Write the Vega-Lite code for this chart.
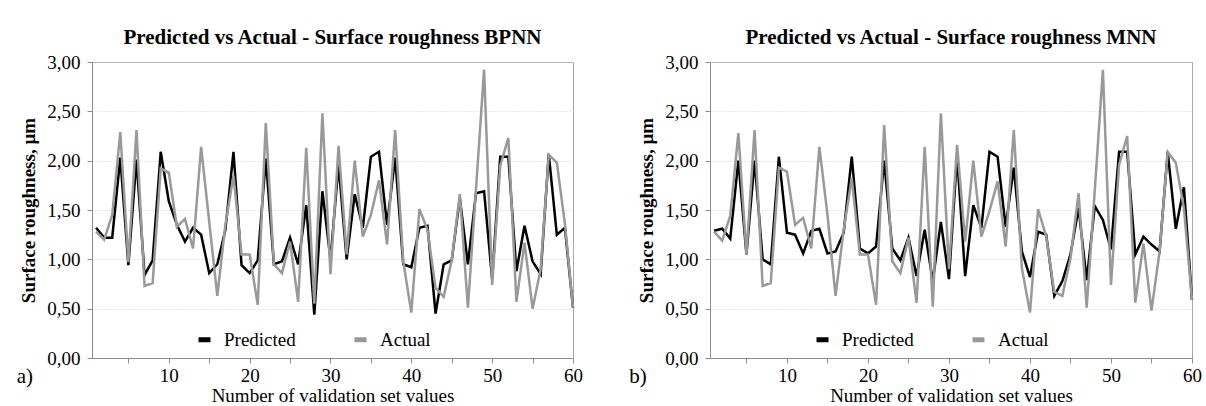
{
  "$schema": "https://vega.github.io/schema/vega-lite/v6.json",
  "background": "white",
  "padding": {"left": 16, "right": 4, "top": 26, "bottom": 0},
  "config": {
    "font": "Liberation Serif",
    "view": {"stroke": "#a6a6a6", "strokeWidth": 1},
    "title": {"fontSize": 21, "fontWeight": "bold", "offset": 5, "color": "#000000", "anchor": "middle"},
    "axis": {"labelColor": "#000000", "titleColor": "#000000", "domainColor": "#8c8c8c", "tickColor": "#8c8c8c", "labelFont": "Liberation Serif", "titleFont": "Liberation Serif"},
    "axisX": {"values": [1,2,3,4,5,6,7,8,9,10,11,12,13,14,15,16,17,18,19,20,21,22,23,24,25,26,27,28,29,30,31,32,33,34,35,36,37,38,39,40,41,42,43,44,45,46,47,48,49,50,51,52,53,54,55,56,57,58,59,60],
      "labelExpr": "datum.value % 10 == 0 ? datum.label : ''", "grid": false, "tickSize": 5, "labelFontSize": 19, "labelPadding": 3, "labelOverlap": false, "labelBound": false, "labelFlush": false,
      "titleFontSize": 19, "titleFontWeight": "normal", "titlePadding": 1},
    "axisY": {"values": [0, 0.5, 1, 1.5, 2, 2.5, 3], "labelExpr": "replace(format(datum.value, '.2f'), '.', ',')", "grid": true, "gridDash": [1, 2], "gridColor": "#cfcfcf", "tickSize": 5, "labelFontSize": 19, "labelPadding": 7, "titleFontSize": 19, "titleFontWeight": "bold", "titlePadding": 8},
    "legend": {"labelFont": "Liberation Serif", "labelColor": "#000000"}
  },
  "datasets": {
    "bpnn": [
      {"n":1,"Predicted":1.32,"Actual":1.28},{"n":2,"Predicted":1.22,"Actual":1.20},{"n":3,"Predicted":1.22,"Actual":1.45},{"n":4,"Predicted":2.03,"Actual":2.29},{"n":5,"Predicted":0.94,"Actual":0.97},
      {"n":6,"Predicted":2.01,"Actual":2.31},{"n":7,"Predicted":0.84,"Actual":0.73},{"n":8,"Predicted":0.99,"Actual":0.76},{"n":9,"Predicted":2.09,"Actual":1.92},{"n":10,"Predicted":1.59,"Actual":1.88},
      {"n":11,"Predicted":1.35,"Actual":1.33},{"n":12,"Predicted":1.18,"Actual":1.41},{"n":13,"Predicted":1.32,"Actual":1.11},{"n":14,"Predicted":1.25,"Actual":2.14},{"n":15,"Predicted":0.86,"Actual":1.38},
      {"n":16,"Predicted":0.95,"Actual":0.63},{"n":17,"Predicted":1.30,"Actual":1.35},{"n":18,"Predicted":2.09,"Actual":1.85},{"n":19,"Predicted":0.94,"Actual":1.05},{"n":20,"Predicted":0.86,"Actual":1.05},
      {"n":21,"Predicted":0.99,"Actual":0.54},{"n":22,"Predicted":2.02,"Actual":2.38},{"n":23,"Predicted":0.95,"Actual":0.95},{"n":24,"Predicted":0.98,"Actual":0.86},{"n":25,"Predicted":1.22,"Actual":1.18},
      {"n":26,"Predicted":0.95,"Actual":0.57},{"n":27,"Predicted":1.55,"Actual":2.13},{"n":28,"Predicted":0.44,"Actual":0.55},{"n":29,"Predicted":1.69,"Actual":2.48},{"n":30,"Predicted":1.00,"Actual":0.85},
      {"n":31,"Predicted":1.96,"Actual":2.15},{"n":32,"Predicted":1.00,"Actual":1.05},{"n":33,"Predicted":1.66,"Actual":2.00},{"n":34,"Predicted":1.32,"Actual":1.23},{"n":35,"Predicted":2.04,"Actual":1.45},
      {"n":36,"Predicted":2.09,"Actual":1.80},{"n":37,"Predicted":1.35,"Actual":1.15},{"n":38,"Predicted":2.03,"Actual":2.31},{"n":39,"Predicted":0.95,"Actual":0.98},{"n":40,"Predicted":0.92,"Actual":0.46},
      {"n":41,"Predicted":1.32,"Actual":1.51},{"n":42,"Predicted":1.34,"Actual":1.30},{"n":43,"Predicted":0.45,"Actual":0.71},{"n":44,"Predicted":0.95,"Actual":0.62},{"n":45,"Predicted":0.99,"Actual":0.99},
      {"n":46,"Predicted":1.62,"Actual":1.66},{"n":47,"Predicted":0.95,"Actual":0.51},{"n":48,"Predicted":1.67,"Actual":1.71},{"n":49,"Predicted":1.69,"Actual":2.92},{"n":50,"Predicted":0.80,"Actual":0.74},
      {"n":51,"Predicted":2.04,"Actual":1.95},{"n":52,"Predicted":2.04,"Actual":2.23},{"n":53,"Predicted":0.88,"Actual":0.57},{"n":54,"Predicted":1.34,"Actual":1.17},{"n":55,"Predicted":0.98,"Actual":0.50},
      {"n":56,"Predicted":0.85,"Actual":0.90},{"n":57,"Predicted":2.07,"Actual":2.06},{"n":58,"Predicted":1.25,"Actual":1.98},{"n":59,"Predicted":1.32,"Actual":1.36},{"n":60,"Predicted":0.51,"Actual":0.51}
    ],
    "mnn": [
      {"n":1,"Predicted":1.29,"Actual":1.28},{"n":2,"Predicted":1.31,"Actual":1.19},{"n":3,"Predicted":1.21,"Actual":1.44},{"n":4,"Predicted":2.00,"Actual":2.28},{"n":5,"Predicted":1.05,"Actual":1.05},
      {"n":6,"Predicted":2.00,"Actual":2.31},{"n":7,"Predicted":1.00,"Actual":0.73},{"n":8,"Predicted":0.95,"Actual":0.76},{"n":9,"Predicted":2.04,"Actual":1.93},{"n":10,"Predicted":1.27,"Actual":1.89},
      {"n":11,"Predicted":1.25,"Actual":1.35},{"n":12,"Predicted":1.06,"Actual":1.42},{"n":13,"Predicted":1.29,"Actual":1.11},{"n":14,"Predicted":1.31,"Actual":2.14},{"n":15,"Predicted":1.06,"Actual":1.45},
      {"n":16,"Predicted":1.08,"Actual":0.63},{"n":17,"Predicted":1.27,"Actual":1.30},{"n":18,"Predicted":2.04,"Actual":1.82},{"n":19,"Predicted":1.11,"Actual":1.05},{"n":20,"Predicted":1.06,"Actual":1.05},
      {"n":21,"Predicted":1.13,"Actual":0.54},{"n":22,"Predicted":2.00,"Actual":2.36},{"n":23,"Predicted":1.11,"Actual":0.98},{"n":24,"Predicted":0.99,"Actual":0.86},{"n":25,"Predicted":1.22,"Actual":1.22},
      {"n":26,"Predicted":0.83,"Actual":0.56},{"n":27,"Predicted":1.30,"Actual":2.14},{"n":28,"Predicted":0.78,"Actual":0.52},{"n":29,"Predicted":1.38,"Actual":2.48},{"n":30,"Predicted":0.80,"Actual":0.90},
      {"n":31,"Predicted":2.05,"Actual":2.16},{"n":32,"Predicted":0.83,"Actual":1.18},{"n":33,"Predicted":1.55,"Actual":2.00},{"n":34,"Predicted":1.32,"Actual":1.23},{"n":35,"Predicted":2.09,"Actual":1.49},
      {"n":36,"Predicted":2.04,"Actual":1.79},{"n":37,"Predicted":1.33,"Actual":1.13},{"n":38,"Predicted":1.93,"Actual":2.31},{"n":39,"Predicted":1.08,"Actual":0.91},{"n":40,"Predicted":0.82,"Actual":0.46},
      {"n":41,"Predicted":1.28,"Actual":1.51},{"n":42,"Predicted":1.25,"Actual":1.23},{"n":43,"Predicted":0.63,"Actual":0.67},{"n":44,"Predicted":0.78,"Actual":0.63},{"n":45,"Predicted":1.05,"Actual":1.01},
      {"n":46,"Predicted":1.52,"Actual":1.67},{"n":47,"Predicted":0.79,"Actual":0.51},{"n":48,"Predicted":1.54,"Actual":1.70},{"n":49,"Predicted":1.40,"Actual":2.92},{"n":50,"Predicted":1.10,"Actual":0.74},
      {"n":51,"Predicted":2.09,"Actual":1.96},{"n":52,"Predicted":2.09,"Actual":2.25},{"n":53,"Predicted":1.05,"Actual":0.56},{"n":54,"Predicted":1.23,"Actual":1.16},{"n":55,"Predicted":1.15,"Actual":0.48},
      {"n":56,"Predicted":1.08,"Actual":1.08},{"n":57,"Predicted":2.09,"Actual":2.09},{"n":58,"Predicted":1.31,"Actual":1.98},{"n":59,"Predicted":1.73,"Actual":1.52},{"n":60,"Predicted":0.59,"Actual":0.59}
    ]
  },
  "spacing": 137,
  "bounds": "flush",
  "resolve": {"scale": {"color": "independent"}, "legend": {"color": "independent"}},
  "hconcat": [
    {
      "width": 481,
      "height": 296,
      "title": "Predicted vs Actual - Surface roughness BPNN",
      "layer": [
        {"data": {"name": "bpnn"},
         "mark": {"type": "line", "strokeWidth": 2.5},
         "encoding": {
           "x": {"field": "n", "type": "quantitative", "scale": {"domain": [0.5, 60], "nice": false, "zero": false}, "axis": {"title": "Number of validation set values"}},
           "y": {"field": "Predicted", "type": "quantitative", "scale": {"domain": [0, 3], "nice": false}, "axis": {"title": "Surface roughness, µm"}},
           "color": {"datum": "Predicted", "type": "nominal",
             "scale": {"domain": ["Predicted", "Actual"], "range": ["#000000", "#999999"]},
             "legend": {"orient": "none", "legendX": 103, "legendY": 268, "direction": "horizontal", "title": null, "symbolType": "stroke", "symbolStrokeWidth": 5, "symbolSize": 144, "labelFontSize": 19, "labelOffset": 10, "columnPadding": 48}}
         }},
        {"data": {"name": "bpnn"},
         "mark": {"type": "line", "strokeWidth": 2.5},
         "encoding": {
           "x": {"field": "n", "type": "quantitative"},
           "y": {"field": "Actual", "type": "quantitative"},
           "color": {"datum": "Actual", "type": "nominal"}
         }},
        {"data": {"values": [{"tag": "a)"}]},
         "mark": {"type": "text", "fontSize": 21, "align": "center", "baseline": "middle", "color": "#000000"},
         "encoding": {"x": {"datum": -7.8, "type": "quantitative"}, "y": {"datum": -0.19, "type": "quantitative"}, "text": {"field": "tag", "type": "nominal"}}}
      ]
    },
    {
      "width": 482,
      "height": 296,
      "title": "Predicted vs Actual - Surface roughness MNN",
      "layer": [
        {"data": {"name": "mnn"},
         "mark": {"type": "line", "strokeWidth": 2.5},
         "encoding": {
           "x": {"field": "n", "type": "quantitative", "scale": {"domain": [0.5, 60], "nice": false, "zero": false}, "axis": {"title": "Number of validation set values"}},
           "y": {"field": "Predicted", "type": "quantitative", "scale": {"domain": [0, 3], "nice": false}, "axis": {"title": "Surface roughness, µm"}},
           "color": {"datum": "Predicted", "type": "nominal",
             "scale": {"domain": ["Predicted", "Actual"], "range": ["#000000", "#999999"]},
             "legend": {"orient": "none", "legendX": 103, "legendY": 268, "direction": "horizontal", "title": null, "symbolType": "stroke", "symbolStrokeWidth": 5, "symbolSize": 144, "labelFontSize": 19, "labelOffset": 10, "columnPadding": 48}}
         }},
        {"data": {"name": "mnn"},
         "mark": {"type": "line", "strokeWidth": 2.5},
         "encoding": {
           "x": {"field": "n", "type": "quantitative"},
           "y": {"field": "Actual", "type": "quantitative"},
           "color": {"datum": "Actual", "type": "nominal"}
         }},
        {"data": {"values": [{"tag": "b)"}]},
         "mark": {"type": "text", "fontSize": 21, "align": "center", "baseline": "middle", "color": "#000000"},
         "encoding": {"x": {"datum": -8.4, "type": "quantitative"}, "y": {"datum": -0.19, "type": "quantitative"}, "text": {"field": "tag", "type": "nominal"}}}
      ]
    }
  ]
}
